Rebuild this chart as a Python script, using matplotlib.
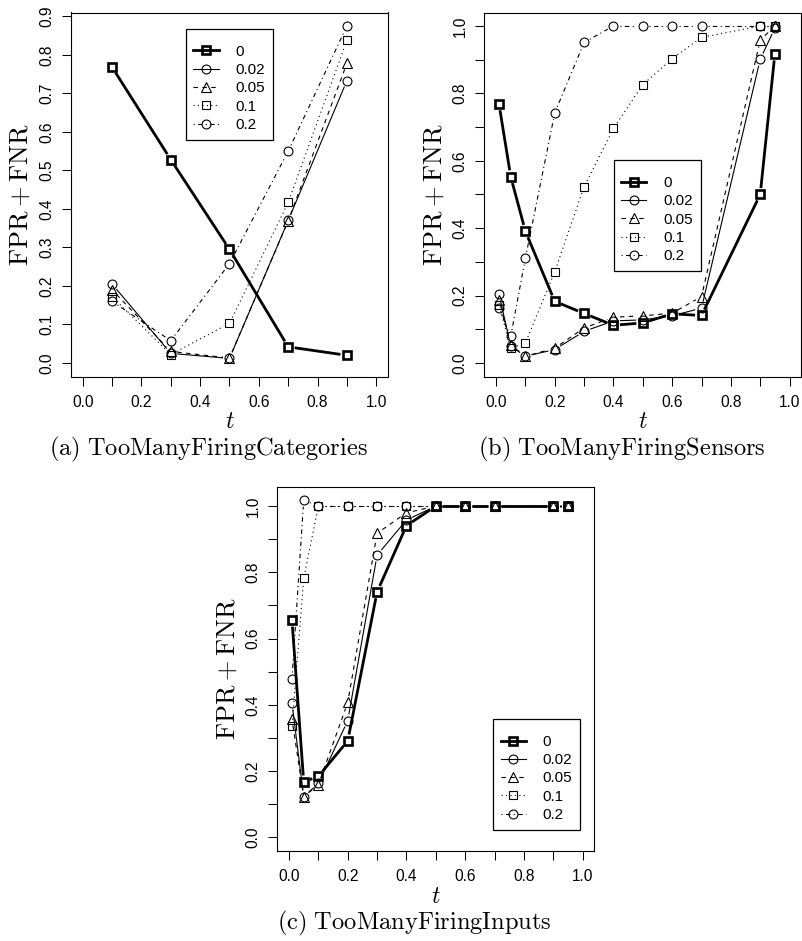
import numpy as np
import matplotlib
matplotlib.use("Agg")
import matplotlib.pyplot as plt
from matplotlib.lines import Line2D

plt.rcParams['font.family'] = ['Liberation Sans', 'DejaVu Sans']
plt.rcParams['mathtext.fontset'] = 'cm'

# noise levels shown in the legends
levels = ['0', '0.02', '0.05', '0.1', '0.2']

# (a) TooManyFiringCategories
t_a = [0.1, 0.3, 0.5, 0.7, 0.9]
a_0 = [0.768, 0.528, 0.295, 0.042, 0.020]
a_002 = [0.205, 0.025, 0.012, 0.370, 0.733]
a_005 = [0.190, 0.030, 0.013, 0.369, 0.778]
a_01 = [0.172, 0.022, 0.103, 0.417, 0.838]
a_02 = [0.160, 0.058, 0.258, 0.550, 0.875]

# (b) TooManyFiringSensors and (c) TooManyFiringInputs share thresholds
t_bc = [0.01, 0.05, 0.1, 0.2, 0.3, 0.4, 0.5, 0.6, 0.7, 0.9, 0.95]
b_0 = [0.769, 0.553, 0.391, 0.183, 0.147, 0.112, 0.119, 0.146, 0.141, 0.500, 0.917]
b_002 = [0.205, 0.050, 0.020, 0.040, 0.094, 0.125, 0.128, 0.140, 0.163, 0.901, 0.994]
b_005 = [0.188, 0.054, 0.020, 0.044, 0.104, 0.136, 0.140, 0.148, 0.197, 0.958, 1.000]
b_01 = [0.173, 0.044, 0.059, 0.271, 0.523, 0.696, 0.826, 0.903, 0.966, 1.000, 1.000]
b_02 = [0.163, 0.079, 0.311, 0.742, 0.951, 1.000, 1.000, 1.000, 1.000, 1.000, 1.000]

c_0 = [0.656, 0.167, 0.184, 0.291, 0.741, 0.941, 1.000, 1.000, 1.000, 1.000, 1.000]
c_002 = [0.405, 0.122, 0.163, 0.352, 0.852, 0.958, 1.000, 1.000, 1.000, 1.000, 1.000]
c_005 = [0.357, 0.122, 0.159, 0.407, 0.918, 0.980, 1.000, 1.000, 1.000, 1.000, 1.000]
c_01 = [0.335, 0.782, 1.000, 1.000, 1.000, 1.000, 1.000, 1.000, 1.000, 1.000, 1.000]
c_02 = [0.478, 1.018, 1.000, 1.000, 1.000, 1.000, 1.000, 1.000, 1.000, 1.000, 1.000]

# R-like line/point styles, one per noise level
styles = [
    dict(lw=2.0, ls='-', marker='s', ms=6.2, mew=1.9),
    dict(lw=0.8, ls='-', marker='o', ms=6.4, mew=0.8),
    dict(lw=0.8, ls=(0, (4, 4)), marker='^', ms=7.2, mew=0.8),
    dict(lw=0.8, ls=(0, (1, 3)), marker='s', ms=6.0, mew=0.8),
    dict(lw=0.8, ls=(0, (1, 3, 4, 3)), marker='o', ms=6.4, mew=0.8),
]

W, H = 802, 941
fig = plt.figure(figsize=(W / 100, H / 100), dpi=100)


def px_axes(left, top, w, h):
    return fig.add_axes([left / W, 1 - (top + h) / H, w / W, h / H])


def draw_series(ax, x, y, st, gap=6.5):
    # type="b": segments stop short of each point
    pts = ax.transData.transform(np.column_stack([x, y]))
    inv = ax.transData.inverted()
    for p, q in zip(pts[:-1], pts[1:]):
        d = q - p
        L = np.hypot(d[0], d[1])
        if L <= 2 * gap:
            continue
        u = d / L
        s, e = inv.transform([p + u * gap, q - u * gap])
        ax.plot([s[0], e[0]], [s[1], e[1]], color='black', lw=st['lw'],
                ls=st['ls'], solid_capstyle='butt', dash_capstyle='butt')
    ax.plot(x, y, ls='none', marker=st['marker'], ms=st['ms'], mew=st['mew'],
            mec='black', mfc='none')


def panel(left, top, x, series, yticks, ylabels, caption, legend_xy):
    ax = px_axes(left, top, 317, 364)
    ymax = max(max(s) for s in series)
    ax.set_xlim(-0.04, 1.04)
    ax.set_ylim(-0.04 * ymax, 1.04 * ymax)
    ax.set_xticks(np.arange(0, 1.01, 0.1))
    ax.set_xticklabels(['%.1f' % v if i % 2 == 0 else '' for i, v in
                        enumerate(np.arange(0, 1.01, 0.1))])
    ax.set_yticks(yticks)
    ax.set_yticklabels(ylabels)
    ax.tick_params(direction='out', length=6.5, width=0.75, labelsize=11.2,
                   color='black')
    ax.tick_params(axis='x', pad=6.5)
    ax.tick_params(axis='y', pad=5.5, labelrotation=90)
    for lbl in ax.get_yticklabels():
        lbl.set_va('center')
    for sp in ax.spines.values():
        sp.set_linewidth(0.8)

    for y, st in zip(series, styles):
        draw_series(ax, x, y, st)

    handles = [Line2D([], [], color='black', lw=st['lw'], ls=st['ls'],
                      marker=st['marker'], ms=st['ms'], mew=st['mew'],
                      mfc='none') for st in styles]
    # a tiny blank title gives the extra room above the first row
    leg = ax.legend(handles, levels, loc='upper left', bbox_to_anchor=legend_xy,
                    borderaxespad=0, fontsize=11, frameon=True, fancybox=False,
                    framealpha=1, edgecolor='black', handlelength=1.65,
                    handletextpad=1.1, labelspacing=0.28, borderpad=0.5,
                    title=' ', title_fontsize=3)
    leg.get_frame().set_linewidth(0.9)

    # axis titles and caption in serif math fonts
    bb = ax.get_position()
    cx = (bb.x0 + bb.x1) / 2
    cy = (bb.y0 + bb.y1) / 2
    fig.text(bb.x0 - 38 / W, cy, r'$\mathrm{FPR} + \mathrm{FNR}$', fontsize=19,
             rotation=90, ha='right', va='center')
    fig.text(cx, bb.y0 - 46 / H, r'$t$', fontsize=17, ha='center', va='center')
    fig.text(cx - 21 / W, bb.y0 - 73 / H, caption, fontsize=17.6,
             ha='center', va='center')
    return ax


ticks_a = np.round(np.arange(0, 0.91, 0.1), 1)
ticks_bc = np.round(np.arange(0, 1.01, 0.1), 1)
lab_a = ['%.1f' % v for v in ticks_a]
lab_bc = ['%.1f' % v if i % 2 == 0 else '' for i, v in enumerate(ticks_bc)]

panel(71, 12.5, t_a, [a_0, a_002, a_005, a_01, a_02], ticks_a, lab_a,
      r'$\mathrm{(a)\ TooManyFiringCategories}$', (0.362, 0.955))
panel(484.3, 12.5, t_bc, [b_0, b_002, b_005, b_01, b_02], ticks_bc, lab_bc,
      r'$\mathrm{(b)\ TooManyFiringSensors}$', (0.408, 0.594))
panel(277.3, 486.7, t_bc, [c_0, c_002, c_005, c_01, c_02], ticks_bc, lab_bc,
      r'$\mathrm{(c)\ TooManyFiringInputs}$', (0.681, 0.362))

fig.savefig('out.png', dpi=100)
